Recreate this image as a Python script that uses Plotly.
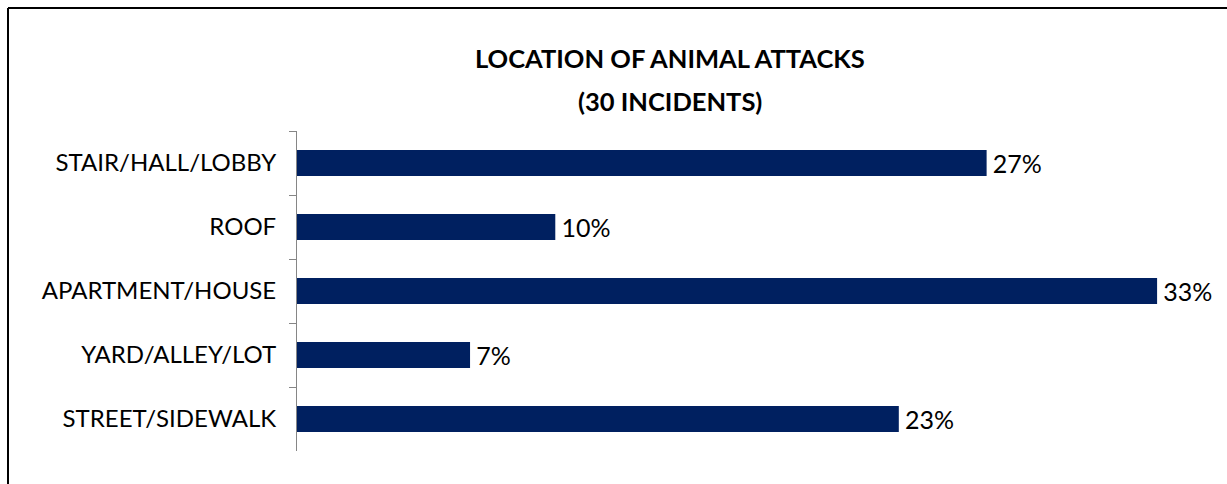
import plotly.graph_objects as go

# Data (top-to-bottom order as displayed)
categories = ["STAIR/HALL/LOBBY", "ROOF", "APARTMENT/HOUSE", "YARD/ALLEY/LOT", "STREET/SIDEWALK"]
values = [26.7, 10.0, 33.3, 6.7, 23.3]
title_line1 = "LOCATION OF ANIMAL ATTACKS"
title_line2 = "(30 INCIDENTS)"

W, H = 1227, 484
L, R, T, B = 297, 26, 131, 33
pw, ph = W - L - R, H - T - B

def px_to_paper_x(x):
    return (x - L) / pw

def px_to_paper_y(y):
    return (H - B - y) / ph

FONT = "Lato"

fig = go.Figure(go.Bar(
    x=values,
    y=categories,
    orientation="h",
    marker=dict(color="#002060", line=dict(width=0)),
    texttemplate="\u2009%{x:.0f}%",
    textposition="outside",
    constraintext="none",
    textfont=dict(family=FONT, size=25, color="#000000"),
    cliponaxis=False,
    hoverinfo="skip",
))

fig.update_layout(
    width=W, height=H,
    margin=dict(l=L, r=R, t=T, b=B, pad=0),
    paper_bgcolor="white",
    plot_bgcolor="white",
    bargap=0.59,
    showlegend=False,
    xaxis=dict(visible=False, range=[0, 35], showgrid=False, zeroline=False),
    yaxis=dict(
        autorange="reversed",
        showline=True, linecolor="#868686", linewidth=1,
        ticks="outside", ticklen=7, tickcolor="#868686", tickwidth=1,
        tickson="boundaries",
        tickfont=dict(family=FONT, size=24, color="#000000"),
        ticklabelstandoff=15,
        showgrid=False, zeroline=False,
    ),
    annotations=[
        dict(text="<b>%s</b>" % title_line1, x=px_to_paper_x(670), y=px_to_paper_y(58),
             xref="paper", yref="paper", xanchor="center", yanchor="middle",
             showarrow=False, font=dict(family=FONT, size=25.5, color="#000000")),
        dict(text="<b>%s</b>" % title_line2, x=px_to_paper_x(670), y=px_to_paper_y(101),
             xref="paper", yref="paper", xanchor="center", yanchor="middle",
             showarrow=False, font=dict(family=FONT, size=25.5, color="#000000")),
    ],
    shapes=[
        dict(type="line", xref="paper", yref="paper",
             x0=px_to_paper_x(8), x1=px_to_paper_x(8),
             y0=px_to_paper_y(8), y1=px_to_paper_y(520),
             line=dict(color="#000000", width=2)),
        dict(type="line", xref="paper", yref="paper",
             x0=px_to_paper_x(8), x1=px_to_paper_x(1260),
             y0=px_to_paper_y(8), y1=px_to_paper_y(8),
             line=dict(color="#000000", width=2)),
    ],
)

fig.write_html(
    "out.html",
    config={"displayModeBar": False},
    post_script="document.body.style.margin='0';document.body.style.overflow='hidden';",
)
